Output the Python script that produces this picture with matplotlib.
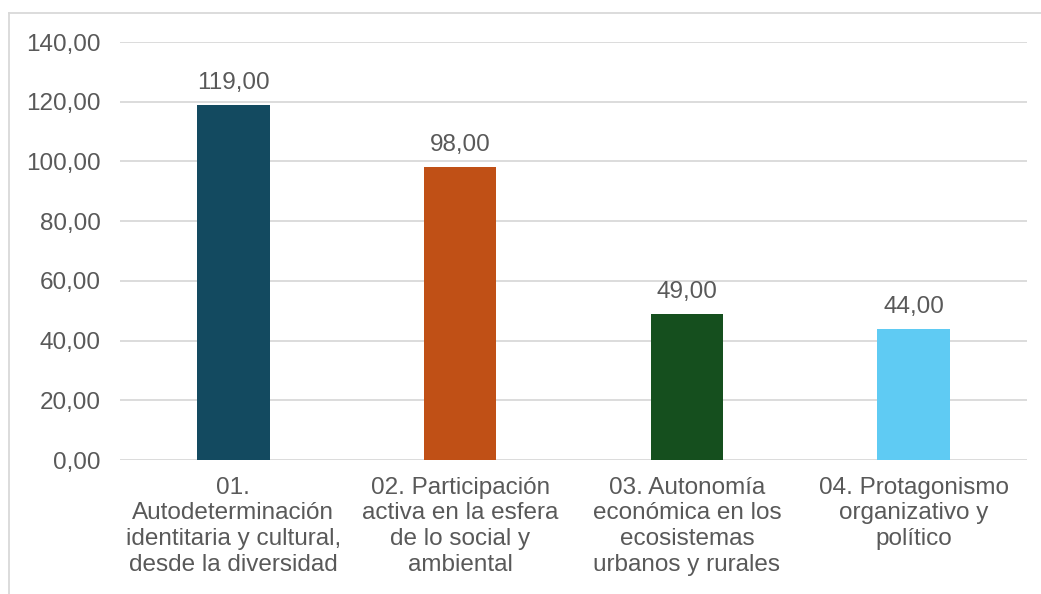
import numpy as np
import matplotlib
matplotlib.use('Agg')
import matplotlib.pyplot as plt
from matplotlib.lines import Line2D

categories = [
    "01.\nAutodeterminación\nidentitaria y cultural,\ndesde la diversidad",
    "02. Participación\nactiva en la esfera\nde lo social y\nambiental",
    "03. Autonomía\neconómica en los\necosistemas\nurbanos y rurales",
    "04. Protagonismo\norganizativo y\npolítico",
]
values = [119, 98, 49, 44]
colors = ['#134A60', '#C05016', '#154F1E', '#5FCBF3']
yticks = [0, 20, 40, 60, 80, 100, 120, 140]

plt.rcParams['font.family'] = ['Liberation Sans', 'DejaVu Sans']
TXT = '#595959'
GRID = '#D9D9D9'
FS = 17.5

W, H = 1041, 594
fig = plt.figure(figsize=(W / 100, H / 100), dpi=100)
ax = fig.add_axes([120 / W, 1 - 460 / H, (1027 - 120) / W, (460 - 42) / H])

x = np.arange(len(values))
ax.bar(x, values, width=0.32, color=colors, zorder=3)
ax.set_xlim(-0.5, len(values) - 0.5)
ax.set_ylim(0, 140)
ax.set_yticks(yticks)
ax.set_yticklabels([f'{v:.2f}'.replace('.', ',') for v in yticks],
                   fontsize=FS, color=TXT)
ax.set_xticks(x)
ax.set_xticklabels(categories, fontsize=FS, color=TXT, linespacing=1.22)
ax.tick_params(axis='y', length=0, pad=14)
ax.tick_params(axis='x', length=0, pad=12)
ax.grid(axis='y', color=GRID, linewidth=1.3, zorder=0)
for s in ax.spines.values():
    s.set_visible(False)

for i, v in enumerate(values):
    ax.annotate(f'{v:.2f}'.replace('.', ','), (i, v), xytext=(0, 8),
                textcoords='offset points', ha='center', va='bottom',
                fontsize=FS, color=TXT)

# chart area border (cropped at right/bottom)
fig.add_artist(Line2D([9 / W, 9 / W], [0, 1 - 13 / H], transform=fig.transFigure,
                      color=GRID, linewidth=1.3))
fig.add_artist(Line2D([9 / W, 1], [1 - 13 / H, 1 - 13 / H], transform=fig.transFigure,
                      color=GRID, linewidth=1.3))

fig.savefig('out.png', dpi=100)
